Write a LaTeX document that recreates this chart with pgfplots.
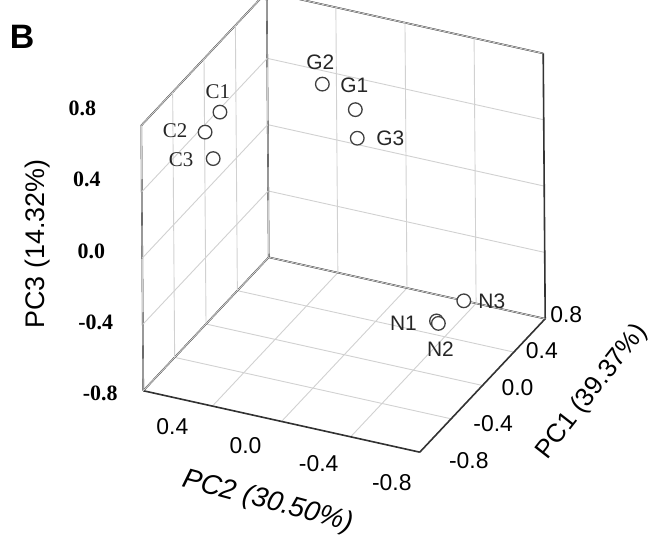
\documentclass[border=0pt]{standalone}
\usepackage{pgfplots}
\pgfplotsset{compat=1.18}
\usepackage{fontspec}
\setmainfont{Liberation Sans}
\newfontfamily\serif{Liberation Serif}
\begin{document}
\begin{tikzpicture}[x=1bp,y=1bp]
\useasboundingbox (0,0) rectangle (655,544);
\begin{axis}[
  at={(343.25bp,321.9bp)}, anchor=origin,
  x={(78.4bp,83.4bp)}, y={(-172.8bp,38.4bp)}, z={(-1.25bp,165.8bp)},
  xmin=-0.8, xmax=0.8, ymin=-0.8, ymax=0.8, zmin=-0.8, zmax=0.8,
  xtick={-0.8,-0.4,0,0.4,0.8}, xticklabels={-0.8,-0.4,0.0,0.4,0.8},
  ytick={-0.8,-0.4,0,0.4,0.8}, yticklabels={-0.8,-0.4,0.0,0.4,{}},
  ztick={-0.8,-0.4,0,0.4,0.8}, zticklabels={-0.8,-0.4,0.0,0.4,0.8},
  major tick length=0pt,
  grid=major,
  major grid style={black!18, line width=0.9bp},
  axis line style={black!80, line width=1.6bp},
  xticklabel style={font=\fontsize{23}{23}\selectfont, anchor=center,
    xshift={(49-7*\ticknum)*1bp}, yshift={(-8+3*\ticknum)*1bp}},
  yticklabel style={font=\fontsize{23}{23}\selectfont, anchor=center,
    xshift={(-28-4*\ticknum)*1bp}, yshift={(-30+3*\ticknum)*1bp}},
  zticklabel style={font=\serif\bfseries\fontsize{22}{22}\selectfont, anchor=center,
    xshift={(-43-4*\ticknum)*1bp}, yshift={(-3+5*\ticknum)*1bp}},
  clip=false,
]
% C group (serif labels)
\addplot3[only marks, mark=*, mark size=6.8bp,
  mark options={fill=white, draw=black!75, line width=1.3bp},
  nodes near coords, point meta=explicit symbolic,
  visualization depends on={value \thisrow{dx}\as\dx},
  visualization depends on={value \thisrow{dy}\as\dy},
  every node near coord/.append style={anchor=center, inner sep=0pt,
    xshift=\dx bp, yshift=\dy bp, font=\serif\fontsize{21}{21}\selectfont, text=black!85}]
  table[meta=label] {
x y z label dx dy
-0.24 0.60 0.645 C1 -2 20
-0.43 0.60 0.62 C2 -30 1
-0.33 0.60 0.41 C3 -32 -1
};
% G and N groups (sans labels)
\addplot3[only marks, mark=*, mark size=6.8bp,
  mark options={fill=white, draw=black!75, line width=1.3bp},
  nodes near coords, point meta=explicit symbolic,
  visualization depends on={value \thisrow{dx}\as\dx},
  visualization depends on={value \thisrow{dy}\as\dy},
  every node near coord/.append style={anchor=center, inner sep=0pt,
    xshift=\dx bp, yshift=\dy bp, font=\fontsize{21}{21}\selectfont, text=black!85}]
  table[meta=label] {
x y z label dx dy
0.60 0.39 0.44 G2 -2 22
0.60 0.20 0.33 G1 -1 24
0.60 0.19 0.16 G3 33 0
0.47 -0.48 -0.6 N3 28 0
0.21 -0.44 -0.6 N1 -33 -2
0.19 -0.46 -0.6 N2 2 -26
};
\end{axis}
\node[font=\bfseries\fontsize{34}{34}\selectfont] at (22,507) {B};
\node[font=\itshape\fontsize{28}{28}\selectfont, rotate=-15] at (268,42) {PC2 (30.50\%)};
\node[font=\fontsize{26}{26}\selectfont, rotate=52, inner sep=0pt] at (592,152) {PC1 (39.37\%)};
\node[font=\fontsize{27}{27}\selectfont, rotate=90] at (38,300) {PC3 (14.32\%)};
\end{tikzpicture}
\end{document}
